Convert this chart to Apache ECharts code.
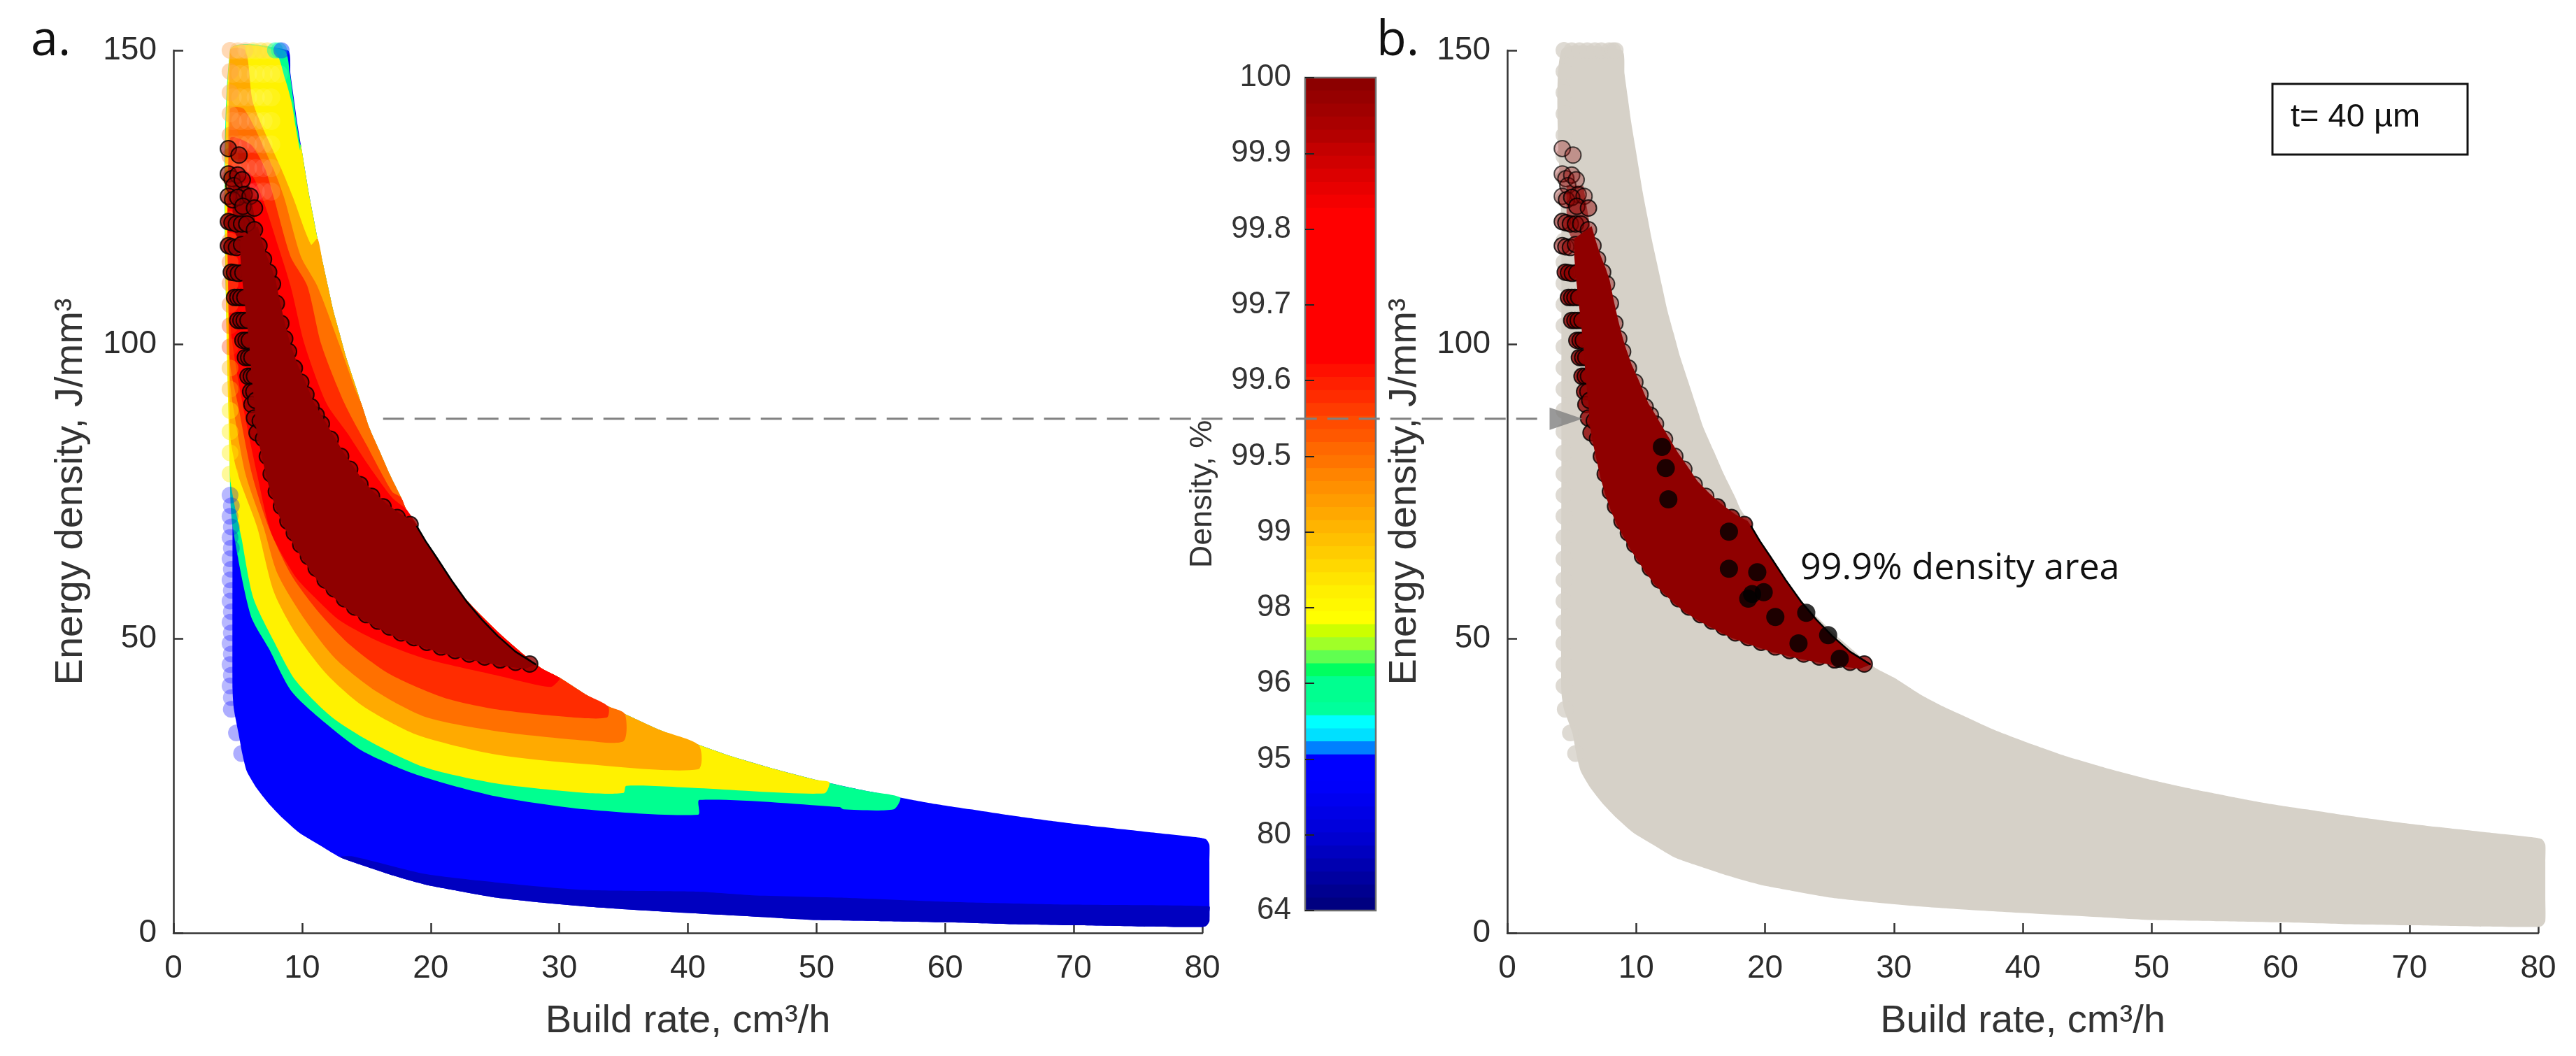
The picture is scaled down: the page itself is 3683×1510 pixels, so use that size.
<!DOCTYPE html>
<html><head><meta charset="utf-8">
<style>html,body{margin:0;padding:0;background:#fff}#c{width:3683px;height:1510px}</style>
<script src="https://cdn.jsdelivr.net/npm/echarts@6/dist/echarts.min.js"></script>
</head><body><div id="c"></div>
<script>
// ---------- data ([build rate, energy density]) ----------
const colorbarTickLabels = ['64','80','95','96','98','99','99.5','99.6','99.7','99.8','99.9','100'];
const envelopeTop = [[8.9,150],[9.1,146],[9.35,142],[9.6,138],[9.9,134],[10.2,130],[10.5,126],[10.85,122],[11.2,118],[11.6,114],[12,110],[12.4,106],[12.9,102],[13.4,98],[14,94],[14.6,90],[15.2,86],[16,82],[16.8,78],[17.7,74],[18.1,72],[18.9,69.4],[19.7,66],[20.8,62],[22.2,58],[23.9,54],[25.8,50],[27.4,47],[28.6,45],[30,43.4],[32,40.6],[33.8,38.5],[35.1,37.2],[37.8,34.5],[40.8,32],[43.4,30],[46.5,28],[50,26],[52,25],[54.2,24],[56.5,23],[59,22],[62,21],[65,20],[68.4,19],[72.2,18],[76.4,17],[79.8,16.2]];
const rightCap = [[80.3,15.9],[80.55,15],[80.55,12],[80.55,6],[80.55,2],[80.3,1.2]];
const lowerCurve = [[5.05,34],[5.35,30.5],[5.7,27.5],[6.5,24.5],[7.4,22],[8.5,19.5],[9.8,17],[11.3,15],[13,12.8],[14.8,11.4],[17,9.8],[19.6,8.2],[22,7.2],[25.1,6],[28,5.3],[32.1,4.5],[36,3.9],[40.8,3.3],[45,2.8],[50,2.2],[55,2],[60,1.8],[65,1.5],[70,1.3],[75,1.1],[79.8,1]];
const leftStripA = [[4.6,150],[4.6,120],[4.6,80],[4.6,41],[4.7,38]];
const leftStripB = [[4.2,150],[4.2,120],[4.2,80],[4.2,41],[4.4,38]];
const darkBlueTop = [[13,13],[14,13],[19.6,10],[25,8.6],[32,7.3],[40.8,7],[45,6.4],[51.8,6],[60,5.3],[70,4.8],[80.55,4.5],[80.55,3.5],[80.55,2.5]];
const tealLower = [[4.4,76],[4.6,69],[6,54],[7.4,48.4],[9.2,41],[11.9,35.5],[14.7,30.9],[18.9,26.9],[25.1,23.2],[32,21],[40.8,20.1],[40.9,22.6],[51.8,21.4],[52.1,21],[56,21]];
const tealRight = [[8.6,150],[9.05,146],[9.3,142],[9.55,138],[9.85,134]];
const yellowLower = [[4.4,78],[5.3,67],[6.2,57],[7.8,49.6],[9.5,42.9],[12.3,36.7],[15.4,32.4],[19.6,28.1],[25.1,25.4],[32,23.8],[35,23.8],[35.2,25],[40.8,24.6],[50.6,23.7]];
const yellowRight = [[7.8,150],[8.7,145],[9.2,141],[9.5,137],[9.85,133]];
const amberLower = [[4.4,85],[5,78],[6.5,69],[7.8,58],[9.5,50.9],[11.9,44],[14.7,38.6],[18.9,33.7],[25.1,30.3],[32,28.7],[40.8,27.8]];
const amberRight = [[5.6,150],[6.2,141],[8.36,130],[9.3,125],[10.7,117]];
const orangeLower = [[4.4,94],[4.6,90],[5.6,78],[7,69],[8.1,61],[10.2,53.3],[12.6,46.6],[15.8,41],[19.6,36.7],[25.1,34.3],[32,32.7],[35,32.6]];
const orangeRight = [[4.4,140],[5.5,140],[7.74,130],[8.6,125],[9.9,115],[11.17,110],[12.9,100],[14.2,92]];
const redOrangeLower = [[4.4,97],[5,90],[6.1,78],[7.4,69],[9.2,60.7],[11.3,54.5],[13.7,49],[16.8,44],[21,40],[25.1,38],[30.7,36.7],[33.7,36.6]];
const redOrangeRight = [[4.4,135],[6,134],[7.1,130],[7.8,125],[9.1,115],[10.4,110],[11.5,100],[13.3,90],[15,83],[17,75]];
const redLower = [[4.4,104],[5.2,92],[6.5,78],[7.6,68],[9.5,60.5],[11,57],[13,53],[16,49.5],[19.6,46.6],[25.1,43.8],[29.3,41.8],[30,43]];
const redRight = [[4.4,130],[6,129],[6.9,125],[8.1,117],[9.1,110],[10.2,100],[11.9,90],[13.5,85],[15,80],[17,74]];
const darkLeftNotches = [[5.2,118],[5.2,115],[5.3,112],[5.5,108],[5.7,104],[5.9,100],[6,97],[6.1,94],[6.3,90]];
const darkTopWedge = [[4.6,127],[5.9,127],[6.5,119],[5.2,117],[4.6,120]];
const darkLowerCenters = [[6.75,87],[7,84],[7.3,81],[7.6,78],[8,75],[8.4,72.5],[8.9,70],[9.4,68],[9.9,66],[10.5,64],[11.1,62],[11.8,60],[12.5,58.5],[13.3,56.8],[14.1,55.4],[15,54.1],[15.9,53],[16.8,52],[17.7,51],[18.7,50.2],[19.7,49.4],[20.8,48.6],[21.9,48],[23,47.4],[24.2,46.9],[25.4,46.4],[26.6,46],[27.7,45.7]];
const darkSmoothEdge = [[28.2,45.6],[26.6,47.8],[25.2,50.5],[24,53.2],[22.8,56.3],[21.6,60],[20.4,64],[19.6,66.6],[18.9,69.2]];
const darkRightCenters = [[18.4,69.4],[17.4,70.6],[16.3,72.4],[15.4,74.2],[14.5,76.2],[13.7,78.8],[13,81],[12.2,83.9],[11.5,86.5],[11.1,88],[10.7,89.4],[10.3,91.5],[9.9,93.6],[9.4,96],[8.95,98.8],[8.65,101],[8.35,103.6],[8,107],[7.7,110.3],[7.4,112.3],[7,114.5],[6.65,116.8],[6.3,119.5]];
const darkTeeth = [[4.27,133.3],[5.1,132.2],[4.27,129],[4.55,128.2],[5,128.8],[4.7,127],[5.35,128],[5.5,125.5],[4.27,125.2],[4.6,124.6],[5,125],[5.96,125.2],[5.4,123.5],[6.3,123.2],
 [4.27,120.9],[4.55,120.7],[4.9,120.5],[5.3,120.5],[5.7,120.5],[4.27,116.8],[4.55,116.6],[4.9,116.5],[5.3,117],[4.5,112.3],[4.75,112.2],[5.05,112.1],[5.4,112.2],[4.75,108],[5,108],[5.25,108],[5.55,108],[5,104.1],[5.25,104.1],[5.5,104.1],[5.8,104.1],[5.4,100.7],[5.65,100.7],[5.9,100.7],[5.6,97.8],[5.85,97.8],[6.1,97.8],[5.8,94.6],[6.05,94.6],[6.3,94.6],[6.0,92],[6.25,92],[6.1,89.8],[6.4,90.5],[6.3,87.5],[6.5,85]];
const blackDots = [[12,82.6],[12.3,79],[12.5,73.7],[17.2,68.2],[17.2,61.9],[19.4,61.3],[19.9,57.9],[19,57.6],[18.7,56.8],[20.8,53.7],[23.2,54.4],[24.9,50.6],[22.6,49.2],[25.8,46.6]];
const leftEdgeX = 4.4;
const leftAmberE = [150,146.4,142.8,139.2];
const leftOrangeE = [135.6,132,128.4,124.8,121.2,117.6,114,110.4,106.8];
const leftRedE = [103.2,99.6];
const leftGoldE = [96,92.4];
const leftYellowE = [88.8,85.2,81.6,78];
const leftBlueE = [74.4,70.8,67.2,63.6,60,56.4,52.8,49.2,45.6,42];
const leftBlueMidE = [72.6,69,65.4,61.8,58.2,54.6,51,47.4,43.8,40];
const leftCurveBlue = [[4.5,38],[4.9,34],[5.3,30.5]];
const topRowAmber = [5,5.6];
const topRowYellow = [6.2,6.8,7.3];
const topRowTeal = [7.9,8.2];
const topRowBlue = [8.4];
const fadeX = [4.6,5.2,5.8,6.4,7,7.6,8.2];
const fadeE = [150,146,142,138,134,130,126];
const guideX = [16.3,106.8];
const guideE = 87.4;
const arrowPoint = [[4.56,87.4]];
// 64 colour levels of the colour bar, from the top (100) to the bottom (64)
const colorLevels = ['#8c0000','#960000','#a00000','#aa0000','#b40000','#c40000','#d00000','#dc0000','#e80000','#f40000',
 '#ff0000','#ff0000','#ff0000','#ff0000','#ff0000','#ff0000','#ff0000','#ff0000','#ff0000','#ff0000','#ff0000','#ff0000',
 '#ff1000','#ff2000','#ff2c00','#ff3c00','#ff4c00','#ff5800','#ff6800','#ff7400','#ff8400','#ff9000','#ff9c00','#ffa800','#ffb400','#ffc000','#ffcc00','#ffd800','#ffe400','#fff000','#fff800','#ffff00',
 '#ccff00','#a0ff28','#60ff50','#00ff60','#00ff90','#00ff90','#00ff9c','#00ffff','#00e0ff','#0080ff',
 '#0000ff','#0000ff','#0000fa','#0000f0','#0000e6','#0000dc','#0000d0','#0000c0','#0000b0','#0000a0','#000090','#000080'];

// ---------- helpers ----------
const axisFont = '"Liberation Sans", Arial, sans-serif';
const env = (a,b)=>envelopeTop.filter(p=>p[0]>=a && p[0]<=b);
const rev = a=>a.slice().reverse();
const outline = strip => envelopeTop.concat(rightCap, rev(lowerCurve), rev(strip));
const darkBlueShape = darkBlueTop.concat([[80.55,2],[80.3,1.2]], rev(lowerCurve.filter(p=>p[0]>=13)));
const tealShape = rev(tealRight).concat([[leftEdgeX,150]], tealLower, rev(env(9.9,56.5)));
const yellowShape = rev(yellowRight).concat([[leftEdgeX,150]], yellowLower, [[51,25.6]], rev(env(9.9,50)));
const amberShape = rev(amberRight).concat([[leftEdgeX,150]], amberLower, [[40.85,31.9]], rev(env(11.2,37.8)));
const orangeShape = rev(orangeRight).concat(orangeLower, [[35.1,37.2]], rev(env(14.6,33.8)));
const redOrangeShape = rev(redOrangeRight).concat(redOrangeLower, [[33.8,38.5]], rev(env(17.7,32)));
const redShape = rev(redRight).concat(redLower, rev(env(17.8,30)));
const shifted = (a,dx,dy)=>a.map(p=>[p[0]+dx,p[1]+dy]);
const darkShape = darkLeftNotches.concat(shifted(darkLowerCenters,-0.35,-0.8), darkSmoothEdge, shifted(darkRightCenters,0.25,0.6));

function poly(points,color,g,z,smooth){
  return {type:'custom',xAxisIndex:g,yAxisIndex:g,silent:true,clip:false,z:z,animation:false,
    data:points,encode:{x:0,y:1},
    renderItem:(p,api)=> p.dataIndex===0 ? {type:'polygon',shape:{points:points.map(q=>api.coord(q)),smooth:smooth||0},style:{fill:color}} : null};
}
function dots(points,color,size,g,z,extra){
  return Object.assign({type:'scatter',xAxisIndex:g,yAxisIndex:g,silent:true,clip:false,z:z,animation:false,
    symbol:'circle',symbolSize:size,data:points,itemStyle:{color:color}},extra||{});
}
const col = (es,x)=>es.map(e=>[x||leftEdgeX,e]);
const rowAt150 = (xs)=>xs.map(x=>[x,150]);
function edgeCircles(list,g,z,alphaFn){
  return dots(list.map(p=>{
    const a=alphaFn(p);
    return {value:p,itemStyle:{color:`rgba(143,0,0,${a})`,borderColor:`rgba(0,0,0,${Math.min(1,a+0.45)})`,borderWidth:2}};
  }),'#8f0000',23,g,z);
}
const teethAlphaA = p=>p[1]>122?0.72:1;
const teethAlphaB = p=>p[1]>125?0.38:(p[1]>116?0.6:1);
const rightAlphaB = p=>p[1]>74?0.5:1;
function darkLayer(g,z,tA,rA,wedgeColor){
  return [
    poly(darkTopWedge,wedgeColor,g,z),
    edgeCircles(darkTeeth,g,z,tA),
    edgeCircles(darkRightCenters,g,z,rA),
    edgeCircles(darkLowerCenters,g,z,()=>1),
    poly(darkShape,'#8f0000',g,z+1),
    {type:'line',xAxisIndex:g,yAxisIndex:g,silent:true,clip:false,z:z+2,animation:false,showSymbol:false,
     data:darkSmoothEdge,lineStyle:{color:'#000',width:2.5}}
  ];
}
const fadePts=[]; fadeX.forEach(x=>fadeE.forEach(e=>{ if(x<8||e>144) fadePts.push([x,e]); }));
const allLeftE=[].concat(leftAmberE,leftOrangeE,leftRedE,leftGoldE,leftYellowE,leftBlueE);

const series=[
  // panel a
  poly(outline(leftStripA),'#0000ff',0,2,0.2),
  poly(darkBlueShape,'#0000c0',0,2,0.2),
  poly(tealShape,'#00ff90',0,2,0.25),
  poly(yellowShape,'#fff200',0,2,0.25),
  poly(amberShape,'#ffaa00',0,2,0.25),
  poly(orangeShape,'#ff7000',0,2,0.25),
  poly(redOrangeShape,'#ff2c00',0,2,0.25),
  poly(redShape,'#ff0000',0,2,0.25),
  dots(fadePts,'rgba(255,255,255,0.12)',26,0,3),
  dots(col(leftAmberE),'rgba(255,160,70,0.5)',24,0,3),
  dots(col(leftOrangeE),'rgba(255,110,30,0.45)',24,0,3),
  dots(col(leftRedE),'rgba(255,60,0,0.45)',24,0,3),
  dots(col(leftGoldE),'rgba(255,180,0,0.45)',24,0,3),
  dots(col(leftYellowE),'rgba(255,240,0,0.5)',24,0,3),
  dots(col(leftBlueE),'rgba(0,0,255,0.35)',24,0,3),
  dots(col(leftBlueMidE,4.5),'rgba(0,0,255,0.35)',24,0,3),
  dots(leftCurveBlue,'rgba(0,0,255,0.4)',24,0,3),
  dots(rowAt150(topRowAmber),'rgba(255,190,110,0.6)',23,0,3),
  dots(rowAt150(topRowYellow),'rgba(255,225,60,0.6)',23,0,3),
  dots(rowAt150(topRowTeal),'rgba(0,255,170,0.6)',23,0,3),
  dots(rowAt150(topRowBlue),'rgba(0,60,255,0.6)',23,0,3),
  ...darkLayer(0,5,teethAlphaA,()=>1,'rgba(143,0,0,0.85)'),
  // panel b
  poly(outline(leftStripB),'#d6d1c8',1,2,0.2),
  dots(col(allLeftE),'#d6d1c8',24,1,3),
  dots(leftCurveBlue,'#d6d1c8',24,1,3),
  dots(rowAt150([].concat(topRowAmber,topRowYellow,topRowTeal,topRowBlue)),'#d6d1c8',23,1,3),
  ...darkLayer(1,5,teethAlphaB,rightAlphaB,'rgba(143,0,0,0.6)'),
  dots(blackDots,'#000',26,1,9),
  dots(arrowPoint,'#808080',[32,47],1,12,{symbol:'triangle',symbolRotate:-90}),
  // dashed guide runs across both panels, on its own hidden axes
  {type:'line',xAxisIndex:3,yAxisIndex:3,silent:true,z:20,animation:false,showSymbol:false,
   data:guideX.map(x=>[x,guideE]),lineStyle:{color:'#808080',width:3,type:[30,15]}},
  // colour bar
  {type:'custom',xAxisIndex:2,yAxisIndex:2,silent:true,clip:false,z:2,animation:false,
   data:colorLevels.map((c,i)=>[0,i]),encode:{x:0,y:1},
   renderItem:(p,api)=>{
     const i=p.dataIndex, n=colorLevels.length;
     const a=api.coord([0,11-i*11/n]), b=api.coord([1,11-(i+1)*11/n]);
     return {type:'rect',shape:{x:a[0],y:a[1],width:b[0]-a[0],height:b[1]-a[1]+1},style:{fill:colorLevels[i]}};
   }},
  {type:'custom',xAxisIndex:2,yAxisIndex:2,silent:true,clip:false,z:3,animation:false,
   data:[[0,0]],encode:{x:0,y:1},
   renderItem:(p,api)=>{
     const a=api.coord([0,11]), b=api.coord([1,0]);
     return {type:'rect',shape:{x:a[0],y:a[1],width:b[0]-a[0],height:b[1]-a[1]},style:{fill:'none',stroke:'#6e6e6e',lineWidth:2.5}};
   }}
];

function xA(idx){
  return {gridIndex:idx,type:'value',min:0,max:80,interval:10,
    name:'Build rate, cm³/h',nameLocation:'middle',nameGap:99,
    nameTextStyle:{fontFamily:axisFont,fontSize:56,color:'#333'},
    axisLine:{lineStyle:{color:'#333',width:2.5},onZero:false},
    axisTick:{inside:true,length:14,lineStyle:{color:'#333',width:2.5}},
    axisLabel:{fontFamily:axisFont,fontSize:46,color:'#2b2b2b',margin:28},
    splitLine:{show:false}};
}
function yA(idx,gap){
  return {gridIndex:idx,type:'value',min:0,max:150,interval:50,
    name:'Energy density, J/mm³',nameLocation:'middle',nameGap:gap,nameRotate:90,
    nameTextStyle:{fontFamily:axisFont,fontSize:56,color:'#333'},
    axisLine:{lineStyle:{color:'#333',width:2.5},onZero:false},
    axisTick:{inside:true,length:14,lineStyle:{color:'#333',width:2.5}},
    axisLabel:{fontFamily:axisFont,fontSize:46,color:'#2b2b2b',margin:24},
    splitLine:{show:false}};
}

const option={
  backgroundColor:'#fff',animation:false,
  grid:[
    {left:248,top:72,width:1471,height:1262},
    {left:2155,top:72,width:1474,height:1262},
    {left:1866,top:111,width:101,height:1191},
    {left:248,top:72,width:1967.5,height:1262}
  ],
  xAxis:[xA(0),xA(1),{gridIndex:2,type:'value',min:0,max:1,show:false},{gridIndex:3,type:'value',min:0,max:107,show:false}],
  yAxis:[yA(0,118),yA(1,118),
    {gridIndex:2,type:'value',min:0,max:11,interval:1,z:10,
     name:'Density, %',nameLocation:'middle',nameGap:124,nameRotate:90,
     nameTextStyle:{fontFamily:axisFont,fontSize:45,color:'#333'},
     axisLine:{show:false},
     axisTick:{inside:true,length:13,lineStyle:{color:'#222',width:2}},
     axisLabel:{fontFamily:axisFont,fontSize:44,color:'#333',margin:20,
       formatter:v=>colorbarTickLabels[v]},
     splitLine:{show:false}},
    {gridIndex:3,type:'value',min:0,max:150,show:false}
  ],
  series:series,
  graphic:{elements:[
    {type:'text',x:44,y:24,z:30,style:{text:'a.',font:'70px "Open Sans"',fill:'#111'}},
    {type:'text',x:1968,y:24,z:30,style:{text:'b.',font:'70px "Open Sans"',fill:'#111'}},
    {type:'text',x:2574,y:787,z:30,style:{text:'99.9% density area',font:'52px "Open Sans"',fill:'#111'}},
    {type:'rect',z:30,shape:{x:3249,y:120,width:279,height:101},style:{fill:'#fff',stroke:'#111',lineWidth:3}},
    {type:'text',x:3275,y:145,z:31,style:{text:'t= 40 µm',font:'47px '+axisFont,fill:'#111'}}
  ]}
};
echarts.init(document.getElementById('c'),null,{renderer:'canvas'}).setOption(option);
</script></body></html>
